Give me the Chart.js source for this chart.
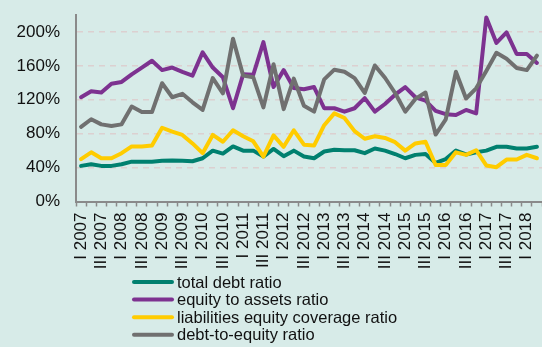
<!DOCTYPE html>
<html>
<head>
<meta charset="utf-8">
<script src="https://cdn.jsdelivr.net/npm/chart.js@4/dist/chart.umd.min.js"></script>
<style>
  html, body { margin: 0; padding: 0; background: #d7ebe8; }
  #wrap { width: 542px; height: 347px; }
</style>
</head>
<body>
<div id="wrap"><canvas id="c" width="542" height="347"></canvas></div>
<script>
// Quarterly categories, I 2007 .. II 2018
const quarters = [
  'I 2007','II 2007','III 2007','IV 2007',
  'I 2008','II 2008','III 2008','IV 2008',
  'I 2009','II 2009','III 2009','IV 2009',
  'I 2010','II 2010','III 2010','IV 2010',
  'I 2011','II 2011','III 2011','IV 2011',
  'I 2012','II 2012','III 2012','IV 2012',
  'I 2013','II 2013','III 2013','IV 2013',
  'I 2014','II 2014','III 2014','IV 2014',
  'I 2015','II 2015','III 2015','IV 2015',
  'I 2016','II 2016','III 2016','IV 2016',
  'I 2017','II 2017','III 2017','IV 2017',
  'I 2018','II 2018'
];

// Ratios in percent
const totalDebtRatio = [42, 44, 42, 42, 44, 47, 47, 47, 48, 48.5, 48, 47.5, 51, 60, 56.5, 65,
  60, 60, 53, 62, 53.5, 60, 53, 51, 59, 61, 60.5, 60.5, 57, 62.5, 60, 56,
  51, 55, 56, 45.5, 50, 60, 55.5, 58, 60, 64.5, 64.5, 62.5, 62.5, 64.5];
const equityToAssetsRatio = [123, 130, 128.5, 139, 141, 150, 158, 166, 155, 158, 153, 148.5, 176, 158, 146.5, 110,
  150, 149.5, 188, 135, 155, 134, 132.5, 135, 110, 110, 106, 110, 122, 106, 115, 126,
  135, 123, 119, 107, 103, 102, 108, 104, 217, 187, 199.5, 174, 174, 163.5];
const liabilitiesEquityCoverage = [50, 58, 51, 51, 57, 65, 65, 66, 87, 82.5, 78.5, 68.5, 57, 78.5, 70.5, 84,
  77, 71, 53, 78, 64.5, 84, 67, 66, 90, 104, 98.5, 83, 74, 77, 75, 70,
  60, 68.5, 70.5, 43, 43, 58, 55, 60.5, 42.5, 40.5, 49.5, 49.5, 55, 51];
const debtToEquityRatio = [88, 97, 91, 89, 91, 112, 105.5, 105.5, 139.5, 123, 127, 117, 108, 145.5, 127.5, 192,
  148.5, 146.5, 111, 162, 109, 145, 113, 106, 144, 155.5, 153, 145.5, 128, 160.5, 146, 128,
  106, 121, 128.5, 79, 97, 153, 121.5, 133.5, 154, 175.5, 168.5, 157.5, 155, 172];

const seriesNames = ['total debt ratio', 'equity to assets ratio',
  'liabilities equity coverage ratio', 'debt-to-equity ratio'];
const yTicks = [0, 40, 80, 120, 160, 200];

const FONT = 'Liberation Sans, Arial, sans-serif';
const AXIS = '#8a8a8a';

// Legend stacked in one column under the axis
const columnLegend = {
  id: 'columnLegend',
  afterDraw(chart) {
    const ctx = chart.ctx;
    ctx.save();
    ctx.font = '16.5px ' + FONT;
    ctx.textBaseline = 'middle';
    chart.data.datasets.forEach((ds, i) => {
      const y = 282 + i * 17.6;
      ctx.strokeStyle = ds.borderColor;
      ctx.lineWidth = 4;
      ctx.lineCap = 'round';
      ctx.beginPath();
      ctx.moveTo(134, y);
      ctx.lineTo(172, y);
      ctx.stroke();
      ctx.fillStyle = '#111';
      ctx.fillText(ds.label, 177, y + 1);
    });
    ctx.restore();
  }
};

const mk = (label, data, color, order) => ({
  label, data, borderColor: color, backgroundColor: color,
  borderWidth: 4, pointRadius: 0, tension: 0, fill: false,
  borderJoinStyle: 'round', borderCapStyle: 'round', order
});

new Chart(document.getElementById('c'), {
  type: 'line',
  data: {
    labels: quarters,
    datasets: [
      mk(seriesNames[0], totalDebtRatio, '#00806f', 4),
      mk(seriesNames[1], equityToAssetsRatio, '#7d3290', 3),
      mk(seriesNames[2], liabilitiesEquityCoverage, '#ffcc00', 2),
      mk(seriesNames[3], debtToEquityRatio, '#707070', 1)
    ]
  },
  options: {
    responsive: false,
    animation: false,
    layout: { padding: { top: 15, left: 0, right: 0, bottom: 0 } },
    plugins: { legend: { display: false }, tooltip: { enabled: false } },
    scales: {
      x: {
        offset: true,
        grid: {
          offset: true, drawOnChartArea: false, drawTicks: true,
          tickLength: 5, tickColor: AXIS, tickWidth: 1.5
        },
        border: { display: true, color: AXIS, width: 2 },
        ticks: {
          autoSkip: false, maxRotation: 90, minRotation: 90, padding: 6,
          color: '#111', font: { family: FONT, size: 17 },
          callback: (v, i) => (i % 2 === 0 ? quarters[i] : '')
        },
        afterFit(scale) {
          scale.height = 145.5;
          scale.paddingLeft = 0; scale.paddingRight = 0;
        }
      },
      y: {
        min: 0, max: 220,
        afterBuildTicks(scale) {
          scale.ticks = yTicks.map(v => ({ value: v }));
        },
        grid: {
          drawTicks: false,
          color: c => (c.tick && c.tick.value === 0 ? 'rgba(0,0,0,0)' : '#dcd0d0'),
          lineWidth: 1.5
        },
        border: { display: true, color: AXIS, width: 2, dash: [6, 5] },
        ticks: {
          padding: 16, color: '#111', font: { family: FONT, size: 17 },
          callback: v => v + '%'
        },
        afterFit(scale) {
          scale.width = 76;
          scale.paddingTop = 0; scale.paddingBottom = 0;
        }
      }
    }
  },
  plugins: [columnLegend]
});
</script>
</body>
</html>
